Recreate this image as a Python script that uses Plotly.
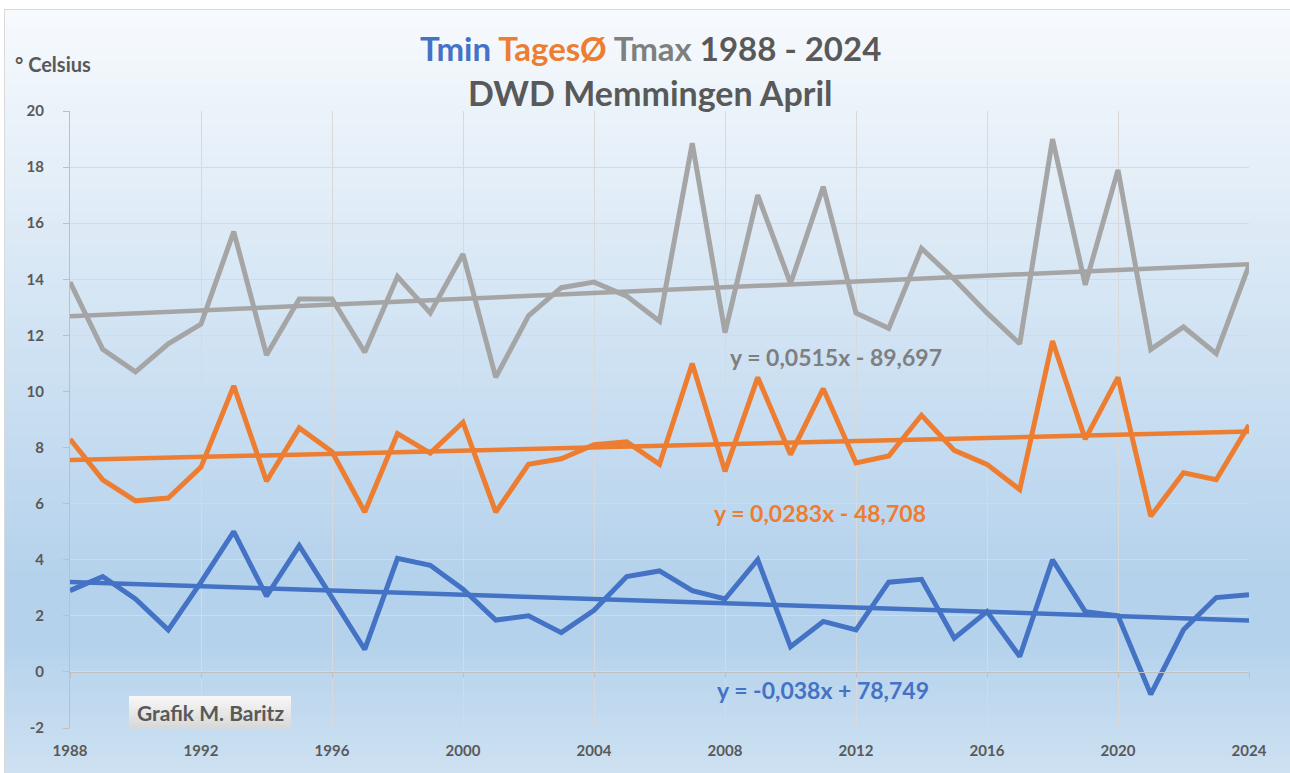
import numpy as np
import plotly.graph_objects as go

# ---------------- data ----------------
years = list(range(1988, 2025))
tmax = [13.9, 11.5, 10.7, 11.7, 12.4, 15.7, 11.3, 13.3, 13.3, 11.4, 14.1, 12.8, 14.9,
        10.5, 12.7, 13.7, 13.9, 13.4, 12.5, 18.85, 12.1, 17.0, 13.85, 17.3, 12.8,
        12.25, 15.1, 14.0, 12.8, 11.7, 19.0, 13.8, 17.9, 11.5, 12.3, 11.35, 14.5]
tmean = [8.3, 6.85, 6.1, 6.2, 7.3, 10.2, 6.8, 8.7, 7.85, 5.7, 8.5, 7.8, 8.9,
         5.7, 7.4, 7.6, 8.1, 8.2, 7.4, 11.0, 7.15, 10.5, 7.75, 10.1, 7.45,
         7.7, 9.15, 7.9, 7.4, 6.5, 11.8, 8.3, 10.5, 5.55, 7.1, 6.85, 8.8]
tmin = [2.9, 3.4, 2.6, 1.5, 3.2, 5.0, 2.7, 4.5, 2.65, 0.8, 4.05, 3.8, 2.95,
        1.85, 2.0, 1.4, 2.2, 3.4, 3.6, 2.9, 2.6, 4.0, 0.9, 1.8, 1.5,
        3.2, 3.3, 1.2, 2.15, 0.55, 4.0, 2.15, 2.0, -0.8, 1.5, 2.65, 2.75]

series_names = ["Tmin", "TagesØ", "Tmax"]
trend_slopes = [-0.038, 0.0283, 0.0515]
trend_intercepts = [78.749, -48.708, -89.697]

x_ticks = list(range(1988, 2025, 4))
y_ticks = list(range(-2, 21, 2))

# ---------------- styling ----------------
FONT = "Lato"
C_BLUE = "#4472c4"
C_ORANGE = "#ed7d31"
C_GRAY = "#a5a5a5"
C_TEXT = "#595959"
colors = [C_BLUE, C_ORANGE, C_GRAY]
eq_colors = [C_BLUE, C_ORANGE, "#7f7f7f"]

W, H = 1290, 773
ML, MR, MT, MB = 70, 41, 111, 45
PW, PH = W - ML - MR, H - MT - MB
PLOT_BOTTOM = H - MB


def px_x(px):
    return (px - ML) / PW


def px_y(py):
    return (PLOT_BOTTOM - py) / PH


def fmt(v):
    return f"{v}".replace(".", ",")


fig = go.Figure()

data_series = [tmin, tmean, tmax]
for name, vals, col in zip(series_names, data_series, colors):
    fig.add_trace(go.Scatter(x=years, y=vals, mode="lines", name=name,
                             line=dict(color=col, width=5)))

xs = np.array([years[0], years[-1]], dtype=float)
for name, m, b, col in zip(series_names, trend_slopes, trend_intercepts, colors):
    fig.add_trace(go.Scatter(x=xs, y=m * xs + b, mode="lines", name=name + " Trend",
                             line=dict(color=col, width=4.5), xaxis="x2"))

# ---------------- background gradient (chart area) ----------------
stops = [(0.0, (247, 250, 253)), (0.74, (181, 210, 236)), (0.83, (181, 210, 236)),
         (1.0, (206, 225, 242))]


def grad(t):
    for (t0, c0), (t1, c1) in zip(stops[:-1], stops[1:]):
        if t0 <= t <= t1:
            f = 0 if t1 == t0 else (t - t0) / (t1 - t0)
            return tuple(int(round(a + (b_ - a) * f)) for a, b_ in zip(c0, c1))
    return stops[-1][1]


shapes = []
top_px, bot_px = 9, H + 2
n = 120
for i in range(n):
    y0 = top_px + (bot_px - top_px) * i / n
    y1 = top_px + (bot_px - top_px) * (i + 1) / n + 1
    c = grad((i + 0.5) / n)
    shapes.append(dict(type="rect", xref="paper", yref="paper", layer="below",
                       x0=px_x(4), x1=px_x(W + 2), y0=px_y(y1), y1=px_y(y0),
                       line=dict(width=0), fillcolor=f"rgb{c}"))
shapes.append(dict(type="rect", xref="paper", yref="paper", layer="below",
                   x0=px_x(4.5), x1=px_x(W + 5), y0=px_y(H + 5), y1=px_y(9.5),
                   line=dict(width=1, color="#d9d9d9"), fillcolor="rgba(0,0,0,0)"))

# "Grafik M. Baritz" box with light gray gradient
bx0, bx1, by0, by1 = 129, 291, 696, 728
m_ = 12
for i in range(m_):
    t = (i + 0.5) / m_
    v = int(round(248 - (248 - 216) * t))
    ya = by0 + (by1 - by0) * i / m_
    yb = by0 + (by1 - by0) * (i + 1) / m_ + 0.6
    shapes.append(dict(type="rect", xref="paper", yref="paper", layer="above",
                       x0=px_x(bx0), x1=px_x(bx1), y0=px_y(yb), y1=px_y(ya),
                       line=dict(width=0), fillcolor=f"rgb({v},{v},{v})"))

annotations = []
annotations.append(dict(
    xref="paper", yref="paper", x=px_x(650), y=px_y(48), showarrow=False,
    xanchor="center", yanchor="middle",
    text=(f"<b><span style='color:{C_BLUE}'>Tmin</span> "
          f"<span style='color:{C_ORANGE}'>TagesØ</span> "
          f"<span style='color:#7f7f7f'>Tmax</span> 1988 - 2024</b>"),
    font=dict(family=FONT, size=33, color=C_TEXT)))
annotations.append(dict(
    xref="paper", yref="paper", x=px_x(650), y=px_y(93), showarrow=False,
    xanchor="center", yanchor="middle", text="<b>DWD Memmingen April</b>",
    font=dict(family=FONT, size=34, color=C_TEXT)))
annotations.append(dict(
    xref="paper", yref="paper", x=px_x(13), y=px_y(64), showarrow=False,
    xanchor="left", yanchor="middle", text="<b>° Celsius</b>",
    font=dict(family=FONT, size=20, color=C_TEXT)))
annotations.append(dict(
    xref="paper", yref="paper", x=px_x((bx0 + bx1) / 2), y=px_y((by0 + by1) / 2),
    showarrow=False, xanchor="center", yanchor="middle", text="<b>Grafik M. Baritz</b>",
    font=dict(family=FONT, size=21, color=C_TEXT)))

eq_pos = [(2011.0, -0.64), (2010.9, 5.67), (2011.4, 11.23)]
for m, b, col, (ex, ey) in zip(trend_slopes, trend_intercepts, eq_colors, eq_pos):
    sign = "-" if b < 0 else "+"
    txt = f"<b>y = {fmt(m)}x {sign} {fmt(abs(b))}</b>"
    annotations.append(dict(x=ex, y=ey, xref="x", yref="y", showarrow=False,
                            xanchor="center", yanchor="middle", text=txt,
                            font=dict(family=FONT, size=23, color=col)))

fig.update_layout(
    width=W, height=H,
    margin=dict(l=ML, r=MR, t=MT, b=MB, pad=0),
    paper_bgcolor="white",
    plot_bgcolor="rgba(0,0,0,0)",
    showlegend=False,
    shapes=shapes,
    annotations=annotations,
    xaxis=dict(range=[1988, 2024], tickvals=x_ticks, ticktext=[str(v) for v in x_ticks],
               showgrid=True, gridcolor="#d9d9d9", gridwidth=1,
               showline=False, zeroline=False, ticks="",
               ticklabelstandoff=12,
               tickfont=dict(family=FONT, size=15, color=C_TEXT, weight=700)),
    xaxis2=dict(matches="x", overlaying="x", anchor="free", position=px_y(PLOT_BOTTOM - 56.1 * 1),
                showgrid=False, showticklabels=False, ticks="outside", ticklen=5,
                tickcolor="#bfbfbf", tickvals=x_ticks, showline=True, linecolor="#bfbfbf",
                linewidth=1, zeroline=False),
    yaxis=dict(range=[-2, 20], tickvals=y_ticks, ticktext=[str(v) for v in y_ticks],
               showgrid=True, gridcolor="#d9d9d9", gridwidth=1,
               showline=True, linecolor="#bfbfbf", linewidth=1,
               zeroline=False, ticks="outside", ticklen=6, tickcolor="#bfbfbf",
               ticklabelstandoff=16,
               tickfont=dict(family=FONT, size=15, color=C_TEXT, weight=700)),
)

fig.write_html("out.html", config={"displayModeBar": False},
               post_script="document.body.style.margin='0px';")
